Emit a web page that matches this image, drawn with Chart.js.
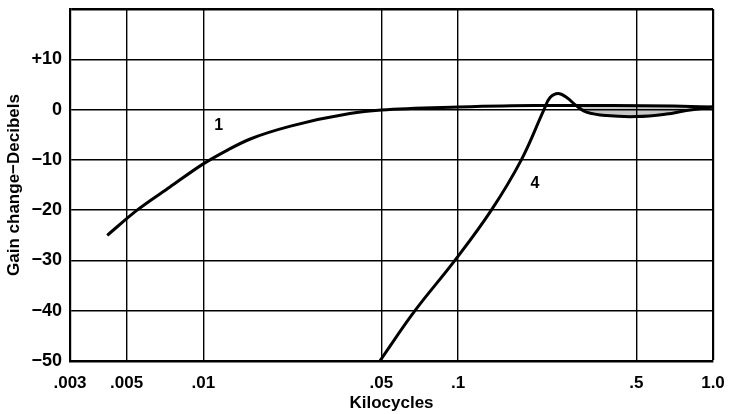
<!DOCTYPE html>
<html>
<head>
<meta charset="utf-8">
<script src="https://cdn.jsdelivr.net/npm/chart.js@4/dist/chart.umd.min.js"></script>
<style>
  html, body { margin: 0; padding: 0; background: #fff; }
  #wrap { width: 731px; height: 414px; }
</style>
</head>
<body>
<div id="wrap"><canvas id="gain"></canvas></div>
<script>
// Gain change vs frequency (log kilocycles)

const xTicks = [0.003, 0.005, 0.01, 0.05, 0.1, 0.5, 1.0];
const xTickLabels = ['.003', '.005', '.01', '.05', '.1', '.5', '1.0'];
const yTickLabels = { 10: '+10', 0: '0', '-10': '\u221210', '-20': '\u221220', '-30': '\u221230', '-40': '\u221240', '-50': '\u221250' };

const curve1Freq = [0.0042, 0.0055, 0.0074, 0.01, 0.0125, 0.0152, 0.022, 0.0376, 0.05, 0.1, 0.2, 0.4, 0.7, 1.0];
const curve1Gain = [-25, -20, -15.4, -10.8, -8.0, -5.9, -3.3, -0.8, -0.1, 0.5, 0.8, 0.8, 0.7, 0.5];

const curve4Freq = [0.0493, 0.0677, 0.0971, 0.135, 0.177, 0.2172, 0.2295, 0.247, 0.2667, 0.292, 0.3188, 0.382, 0.5, 0.656, 0.786, 1.0];
const curve4Gain = [-50, -40, -30, -20, -10, 0, 2.4, 3.2, 2.4, 0.7, -0.5, -1.2, -1.4, -0.9, -0.2, 0.5];

const dipStart = 9; // index in curve 4 where the shaded dip begins

const curveLabels = [
  { text: '1', freq: 0.0115, gain: -3.2 },
  { text: '4', freq: 0.200, gain: -14.7 }
];

function toPoints(xs, ys) {
  return xs.map((x, i) => ({ x: x, y: ys[i] }));
}

const curveLabelPlugin = {
  id: 'curveLabels',
  afterDatasetsDraw(chart) {
    const c = chart.ctx;
    const xs = chart.scales.x, ys = chart.scales.y;
    c.save();
    c.fillStyle = '#000';
    c.font = 'bold 16px "Liberation Sans", Arial, sans-serif';
    c.textAlign = 'center';
    c.textBaseline = 'middle';
    curveLabels.forEach(l => {
      c.fillText(l.text, xs.getPixelForValue(l.freq), ys.getPixelForValue(l.gain));
    });
    c.restore();
  }
};

Chart.defaults.font.family = '"Liberation Sans", Arial, sans-serif';
Chart.defaults.font.weight = 'bold';
Chart.defaults.color = '#000';

new Chart(document.getElementById('gain'), {
  type: 'line',
  data: {
    datasets: [
      {
        label: '1',
        data: toPoints(curve1Freq, curve1Gain),
        borderColor: '#000',
        borderWidth: 3,
        pointRadius: 0,
        cubicInterpolationMode: 'monotone',
        fill: false
      },
      {
        label: '4',
        data: toPoints(curve4Freq, curve4Gain),
        borderColor: '#000',
        borderWidth: 3,
        pointRadius: 0,
        tension: 0.4,
        fill: false
      },
      {
        label: 'dip',
        data: toPoints(curve4Freq.slice(dipStart), curve4Gain.slice(dipStart)),
        borderColor: 'rgba(0,0,0,0)',
        borderWidth: 0,
        pointRadius: 0,
        tension: 0.4,
        fill: { target: 0 },
        backgroundColor: 'rgba(0,0,0,0.22)'
      }
    ]
  },
  options: {
    responsive: true,
    maintainAspectRatio: false,
    animation: false,
    layout: { padding: { top: 9, right: 18, left: 4, bottom: 0 } },
    plugins: {
      legend: { display: false },
      tooltip: { enabled: false },
      filler: { propagate: false }
    },
    scales: {
      x: {
        type: 'logarithmic',
        min: 0.003,
        max: 1.0,
        afterBuildTicks: scale => { scale.ticks = xTicks.map(v => ({ value: v })); },
        afterFit: scale => { scale.height = 53; scale.paddingLeft = 0; scale.paddingRight = 0; },
        ticks: {
          autoSkip: false,
          maxRotation: 0,
          padding: 12,
          font: { size: 17 },
          callback: function(value) {
            const i = xTicks.findIndex(t => Math.abs(t - value) < 1e-9);
            return i >= 0 ? xTickLabels[i] : '';
          }
        },
        grid: {
          color: '#000',
          lineWidth: ctx => (ctx.tick && ctx.tick.value === 1.0 ? 2.2 : 1.4),
          drawTicks: false
        },
        border: { color: '#000', width: 2.5 },
        title: {
          display: true,
          text: 'Kilocycles',
          font: { size: 17 },
          padding: { top: 1, bottom: 0 }
        }
      },
      y: {
        min: -50,
        max: 20,
        afterFit: scale => { scale.width = 66; scale.paddingTop = 0; scale.paddingBottom = 0; },
        ticks: {
          stepSize: 10,
          padding: 8,
          font: { size: 18 },
          callback: function(value) {
            return yTickLabels[value] !== undefined ? yTickLabels[value] : '';
          }
        },
        grid: {
          color: '#000',
          lineWidth: ctx => (ctx.tick && ctx.tick.value === 20 ? 2.5 : 1.4),
          drawTicks: false
        },
        border: { color: '#000', width: 2.2 },
        title: {
          display: true,
          text: 'Gain change\u2212Decibels',
          font: { size: 17 },
          padding: { top: 0, bottom: 2 }
        }
      }
    }
  },
  plugins: [curveLabelPlugin]
});
</script>
</body>
</html>
